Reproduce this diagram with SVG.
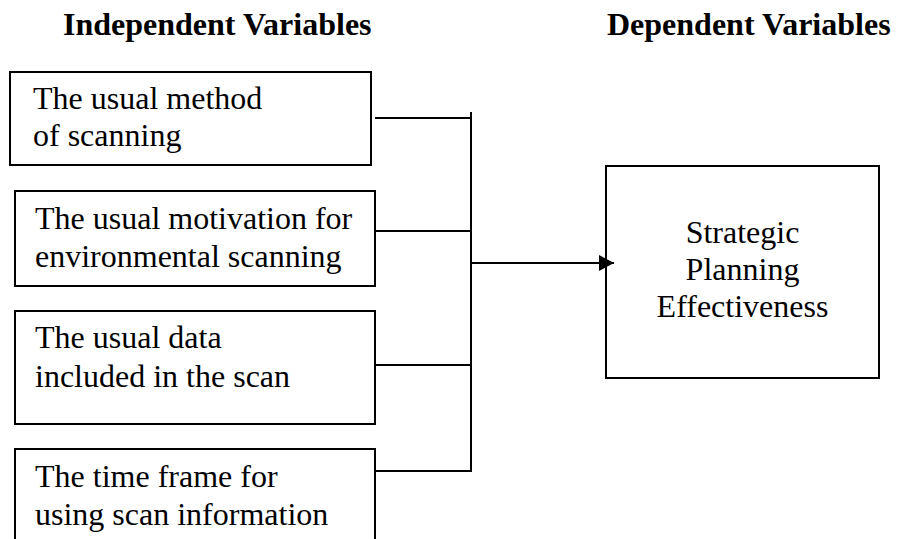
<svg xmlns="http://www.w3.org/2000/svg" width="898" height="539" viewBox="0 0 898 539">
<defs>
<style>
.box{fill:#fff;stroke:#000;stroke-width:2}
.t{font-family:"Liberation Serif","Times New Roman",serif;font-size:32px;fill:#000}
.h{font-family:"Liberation Serif","Times New Roman",serif;font-size:32px;font-weight:bold;fill:#000}
.c{fill:none;stroke:#000;stroke-width:2}
</style>
<marker id="arr" markerUnits="userSpaceOnUse" markerWidth="16" markerHeight="16" refX="15" refY="8" orient="auto">
<path d="M0,0 L15,8 L0,16 Z" fill="#000"/>
</marker>
</defs>
<rect width="898" height="539" fill="#fff"/>
<g id="titles">
<text class="h" x="63" y="35">Independent Variables</text>
<text class="h" x="607" y="35">Dependent Variables</text>
</g>
<g id="node1">
<rect class="box" x="10" y="72" width="361" height="93"/>
<text class="t" x="33" y="109">The usual method</text>
<text class="t" x="33" y="146">of scanning</text>
</g>
<g id="node2">
<rect class="box" x="15" y="191" width="360" height="95"/>
<text class="t" x="35" y="229">The usual motivation for</text>
<text class="t" x="35" y="267">environmental scanning</text>
</g>
<g id="node3">
<rect class="box" x="15" y="311" width="360" height="113"/>
<text class="t" x="35" y="348">The usual data</text>
<text class="t" x="35" y="387">included in the scan</text>
</g>
<g id="node4">
<rect class="box" x="15" y="449" width="360" height="110"/>
<text class="t" x="35" y="487">The time frame for</text>
<text class="t" x="35" y="525">using scan information</text>
</g>
<g id="node5">
<rect class="box" x="606" y="166" width="273" height="212"/>
<text class="t" x="742.5" y="243" text-anchor="middle">Strategic</text>
<text class="t" x="742.5" y="280" text-anchor="middle">Planning</text>
<text class="t" x="742.5" y="317" text-anchor="middle">Effectiveness</text>
</g>
<g id="connectors">
<line class="c" x1="375" y1="118" x2="471" y2="118"/>
<line class="c" x1="375" y1="231" x2="471" y2="231"/>
<line class="c" x1="375" y1="365" x2="471" y2="365"/>
<line class="c" x1="375" y1="471" x2="471" y2="471"/>
<line class="c" x1="471" y1="112" x2="471" y2="472"/>
<line class="c" x1="471" y1="263" x2="614" y2="263" marker-end="url(#arr)"/>
</g>
</svg>
